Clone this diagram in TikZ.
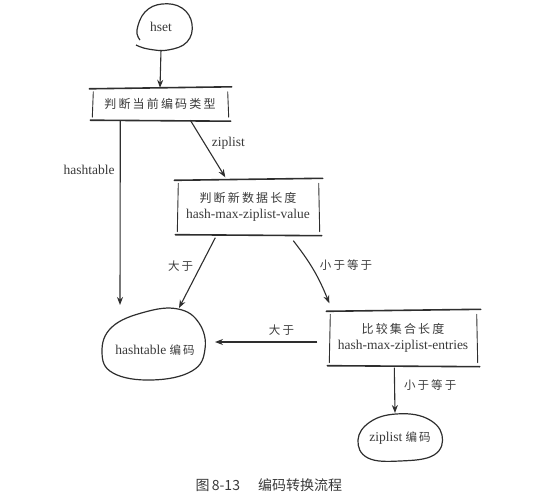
\documentclass[tikz,border=0pt]{standalone}
\usepackage{fontspec}
\setmainfont{Liberation Serif}
\newfontfamily\cjk{Noto Sans CJK SC}[LetterSpace=18]
\newfontfamily\cjkcap{Noto Sans CJK SC}
\usetikzlibrary{arrows.meta,calc}
\definecolor{ink}{HTML}{2E2E2E}
\definecolor{txt}{HTML}{3A3A3A}
\tikzset{
  lbl/.style={font=\fontsize{13.5}{16}\selectfont, text=txt, inner sep=1pt},
  cjklbl/.style={font=\fontsize{11.5}{14}\selectfont\cjk, text=txt, inner sep=1pt},
  stepbox/.style={font=\fontsize{13.5}{16}\selectfont, text=txt, align=center, inner sep=0pt},
  edge/.style={draw=ink, line width=1.1pt, -{Stealth[length=8pt,width=6pt]}},
  blob/.style={draw=ink, line width=1.2pt},
  hline/.style={draw=ink, line width=1.6pt, line cap=round},
  vline/.style={draw=ink, line width=0.9pt, line cap=round}
}
\newcommand\skbox[1]{%
  \draw[hline] ($(#1.north west)+(-3,1)$) -- ($(#1.north east)+(4,-1)$);
  \draw[hline] ($(#1.south west)+(-2,0)$) -- ($(#1.south east)+(3,1)$);
  \draw[vline] ($(#1.north west)+(1,4)$) -- ($(#1.south west)+(0,-3)$);
  \draw[vline] ($(#1.north east)+(0,4)$) -- ($(#1.south east)+(1,-3)$);
}
\begin{document}
\begin{tikzpicture}[x=1pt,y=-1pt]
\useasboundingbox (0,0) rectangle (536,495);

% nodes
\node[lbl] (hset) at (161,27) {hset};
\node[stepbox, minimum width=135pt, minimum height=32pt] (b1) at (160,104) {{\cjk\fontsize{12}{14}\selectfont 判断当前编码类型}};
\node[stepbox, minimum width=141pt, minimum height=55pt] (b2) at (248,207) {{\cjk\fontsize{12}{14}\selectfont 判断新数据长度}\\[0pt]hash-max-ziplist-value};
\node[stepbox, minimum width=147pt, minimum height=55pt] (b3) at (403,338) {{\cjk\fontsize{12}{14}\selectfont 比较集合长度}\\[0pt]hash-max-ziplist-entries};
\node[lbl] (ht) at (155,350) {hashtable {\cjk\fontsize{11.5}{14}\selectfont 编码}};
\node[lbl] (zl) at (400,438) {ziplist {\cjk\fontsize{11.5}{14}\selectfont 编码}};

\skbox{b1}
\skbox{b2}
\skbox{b3}

% blobs
\draw[blob] plot[smooth, tension=0.7] coordinates {(140,40) (137,30) (145,12) (162,4) (182,8) (192,24) (187,42) (168,50) (148,49) (136,45)};
\draw[blob] plot[smooth cycle, tension=0.7] coordinates {(178,309) (199,323) (205,349) (192,371) (152,380) (113,373) (102,352) (112,327) (145,312)};
\draw[blob] plot[smooth cycle, tension=0.7] coordinates {(396,414) (426,418) (442,435) (434,455) (400,461) (368,458) (358,440) (370,422)};

% anchor coordinates on blobs
\coordinate (hsetb) at (161,50);
\coordinate (httop) at (120,305);
\coordinate (htin) at (179,308);
\coordinate (htright) at (215,342);
\coordinate (zltop) at (395,413);

% connectors
\draw[edge] (hsetb) -- (b1.north);
\draw[edge] ($(b1.south west)+(28,0)$) -- node[lbl, left=4pt, pos=0.27] {hashtable} (httop);
\draw[edge] ($(b1.south west)+(98,0)$) -- node[lbl, right=6pt, pos=0.4] {ziplist} ($(b2.north west)+(48,-2)$);
\draw[edge] ($(b2.south west)+(38,3)$) -- node[cjklbl, left=6pt, pos=0.4] {大于} (htin);
\draw[edge] ($(b2.south west)+(116,6)$) to[bend left=8] node[cjklbl, right=8pt, pos=0.4] {小于等于} ($(b3.north west)+(0,-7)$);
\draw[edge] ($(b3.west)+(-12,4)$) -- node[cjklbl, above=5pt, pos=0.35] {大于} (htright);
\draw[edge] ($(b3.south west)+(65,2)$) -- node[cjklbl, right=8pt, pos=0.38] {小于等于} (zltop);

% caption
\node[font=\fontsize{14}{16}\selectfont\cjkcap, text=txt, anchor=west] (cap) at (192,485) {图\,8-13\hspace{1.3em}编码转换流程};
\end{tikzpicture}
\end{document}
